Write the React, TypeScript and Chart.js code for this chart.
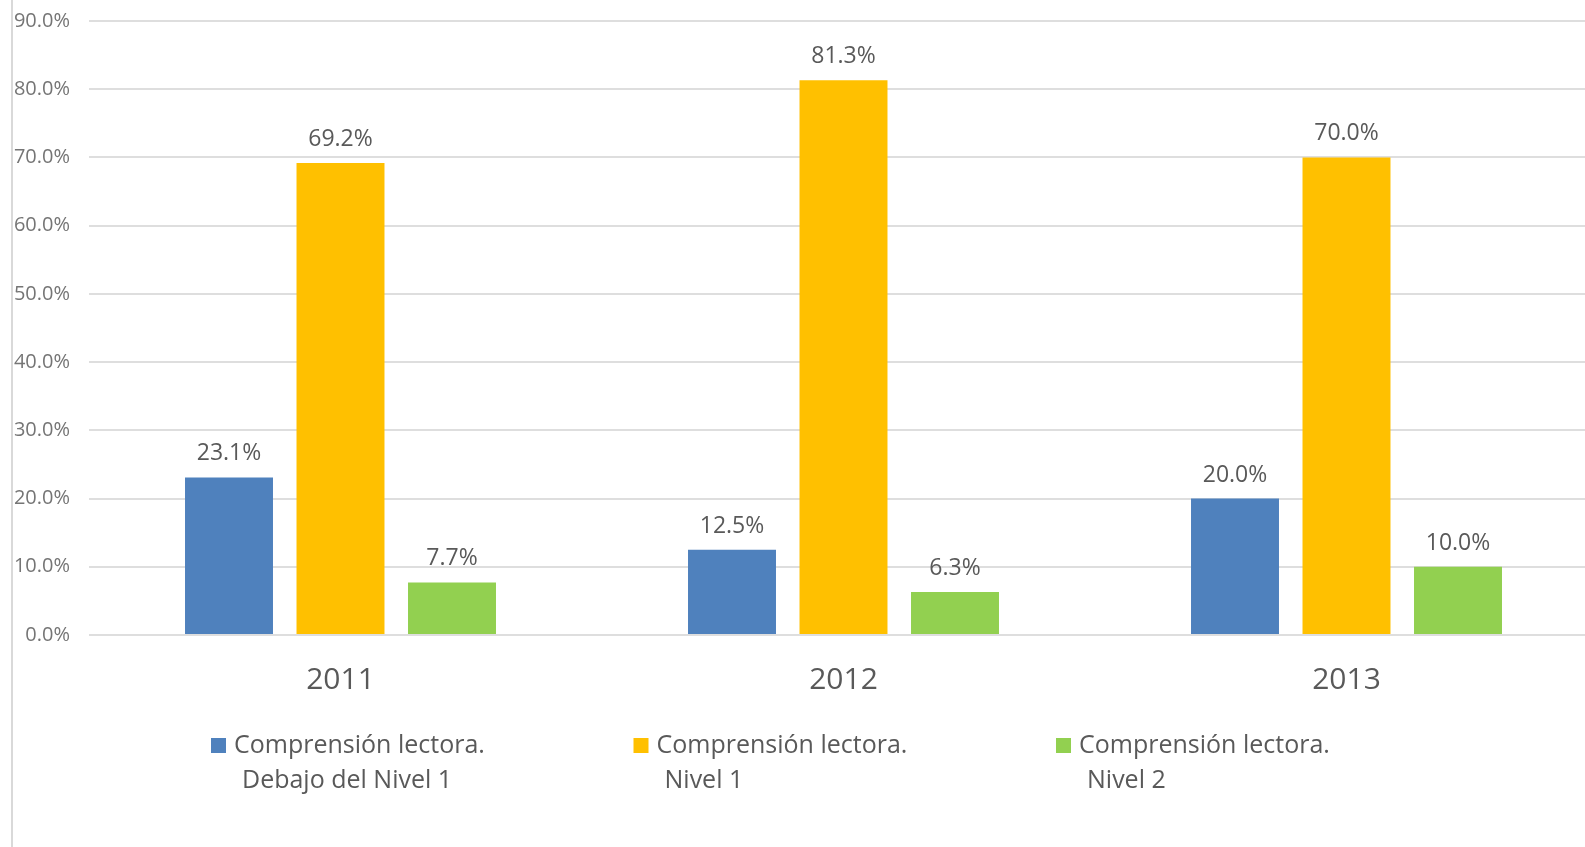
import React, { useEffect, useRef } from "react";
import { Chart, registerables } from "chart.js";

Chart.register(...registerables);

const categories = ["2011", "2012", "2013"];
const seriesNames = [
  ["Comprensión lectora.", "Debajo del Nivel 1"],
  ["Comprensión lectora.", "Nivel 1"],
  ["Comprensión lectora.", "Nivel 2"],
];
const debajoNivel1 = [23.1, 12.5, 20.0];
const nivel1 = [69.2, 81.3, 70.0];
const nivel2 = [7.7, 6.3, 10.0];
const seriesColors = ["#4F81BD", "#FFC000", "#92D050"];
const yMin = 0;
const yMax = 90;
const yStep = 10;

const FONT = "'Open Sans', Lato, sans-serif";

const dataLabelPlugin = {
  id: "dataLabels",
  afterDatasetsDraw(chart: any) {
    const ctx = chart.ctx;
    ctx.save();
    ctx.font = `23px ${FONT}`;
    ctx.fillStyle = "#595959";
    ctx.textAlign = "center";
    ctx.textBaseline = "alphabetic";
    chart.data.datasets.forEach((ds: any, di: number) => {
      const meta = chart.getDatasetMeta(di);
      meta.data.forEach((el: any, i: number) => {
        const v = ds.data[i];
        ctx.fillText(v.toFixed(1) + "%", el.x, el.y - 17);
      });
    });
    ctx.restore();
  },
};

const legendPlugin = {
  id: "customLegend",
  afterDraw(chart: any) {
    const ctx = chart.ctx;
    ctx.save();
    const startX = 211;
    const stepX = 422.5;
    const boxTop = 738;
    const box = 15;
    ctx.font = `25px ${FONT}`;
    ctx.textBaseline = "middle";
    ctx.textAlign = "left";
    chart.data.datasets.forEach((ds: any, di: number) => {
      const x = startX + di * stepX;
      ctx.fillStyle = ds.backgroundColor;
      ctx.fillRect(x, boxTop, box, box);
      ctx.fillStyle = "#595959";
      const lines: string[] = ds.label;
      lines.forEach((ln, li) => {
        ctx.fillText(ln, x + 23 + (li > 0 ? 8 : 0), boxTop + box / 2 + li * 35);
      });
    });
    // left frame line
    ctx.fillStyle = "#d9d9d9";
    ctx.fillRect(11, 0, 2, chart.height);
    ctx.restore();
  },
};

export default function App() {
  const ref = useRef<HTMLCanvasElement | null>(null);
  useEffect(() => {
    if (!ref.current) return;
    const chart = new Chart(ref.current, {
      type: "bar",
      data: {
        labels: categories,
        datasets: [
          { label: seriesNames[0] as any, data: debajoNivel1, backgroundColor: seriesColors[0] },
          { label: seriesNames[1] as any, data: nivel1, backgroundColor: seriesColors[1] },
          { label: seriesNames[2] as any, data: nivel2, backgroundColor: seriesColors[2] },
        ],
      },
      options: {
        responsive: false,
        animation: false,
        layout: { padding: { top: 21, right: 12, left: 0, bottom: 0 } },
        datasets: { bar: { categoryPercentage: 0.665, barPercentage: 0.789 } },
        plugins: { legend: { display: false }, tooltip: { enabled: false }, title: { display: false } },
        scales: {
          x: {
            grid: { display: false, drawTicks: false },
            border: { display: false },
            ticks: { font: { family: FONT, size: 30 }, color: "#595959", padding: 27 },
            afterFit(scale: any) {
              scale.height = 212;
              scale.paddingLeft = 0;
              scale.paddingRight = 0;
            },
          },
          y: {
            min: yMin,
            max: yMax,
            grid: { color: "#dedede", lineWidth: 2, drawTicks: false },
            border: { display: false },
            ticks: {
              stepSize: yStep,
              font: { family: FONT, size: 20 },
              color: "#757575",
              padding: 19,
              callback: (v: any) => Number(v).toFixed(1) + "%",
            },
            afterFit(scale: any) {
              scale.width = 89;
              scale.paddingTop = 0;
              scale.paddingBottom = 0;
            },
          },
        },
      },
      plugins: [dataLabelPlugin, legendPlugin],
    });
    return () => chart.destroy();
  }, []);
  return (
    <div
      style={{
        position: "fixed",
        left: 0,
        top: 0,
        width: 1585,
        height: 847,
        overflow: "hidden",
        background: "#fff",
      }}
    >
      <canvas ref={ref} width={1610} height={847} style={{ width: 1610, height: 847, display: "block" }} />
    </div>
  );
}
